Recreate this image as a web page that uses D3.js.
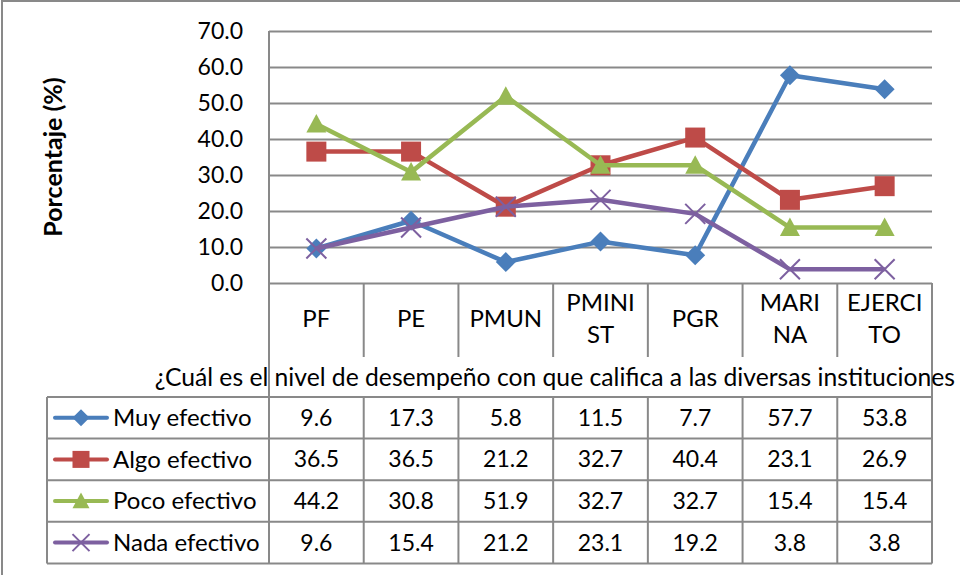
<!DOCTYPE html>
<html>
<head>
<meta charset="utf-8">
<script src="https://cdn.jsdelivr.net/npm/d3@7"></script>
<style>
    body { margin: 0; background: #fff; }
    svg text { font-family: Lato, "Open Sans", sans-serif; fill: #000; }
</style>
</head>
<body>
<div id="chart"></div>
<script>
// data
const categories = ["PF", "PE", "PMUN", "PMINIST", "PGR", "MARINA", "EJERCITO"];
const categoryLines = [["PF"], ["PE"], ["PMUN"], ["PMINI", "ST"], ["PGR"], ["MARI", "NA"], ["EJERCI", "TO"]];
const seriesNames = ["Muy efectivo", "Algo efectivo", "Poco efectivo", "Nada efectivo"];
const muyEfectivo = [9.6, 17.3, 5.8, 11.5, 7.7, 57.7, 53.8];
const algoEfectivo = [36.5, 36.5, 21.2, 32.7, 40.4, 23.1, 26.9];
const pocoEfectivo = [44.2, 30.8, 51.9, 32.7, 32.7, 15.4, 15.4];
const nadaEfectivo = [9.6, 15.4, 21.2, 23.1, 19.2, 3.8, 3.8];
const yTicks = [0, 10, 20, 30, 40, 50, 60, 70];
const axisTitle = "¿Cuál es el nivel de desempeño con que califica a las diversas instituciones";
const yTitle = "Porcentaje (%)";

const seriesValues = [muyEfectivo, algoEfectivo, pocoEfectivo, nadaEfectivo];
const colors = ["#4a7ebb", "#be4b48", "#98b954", "#7d60a0"];
const markers = ["diamond", "square", "triangle", "cross"];

const W = 960, H = 575;
const plot = {left: 269, right: 932, top: 31, bottom: 283};
const headerBottom = 357;
const tableTop = 397, rowH = 41.6, tableLeft = 47;
const gridColor = "#898989";
const wordSize = "24px";   // labels with letters
const numSize = "23px";    // numbers

const svg = d3.select("#chart").append("svg")
    .attr("width", W)
    .attr("height", H);

svg.append("rect")
    .attr("width", W).attr("height", H)
    .attr("fill", "#fff");

// outer chart border
svg.append("rect")
    .attr("x", 2).attr("y", 1)
    .attr("width", W + 20).attr("height", H + 20)
    .attr("fill", "none")
    .attr("stroke", gridColor)
    .attr("stroke-width", 2);

// scales
const x = d3.scaleBand()
    .domain(categories)
    .range([plot.left, plot.right]);

const y = d3.scaleLinear()
    .domain([0, 70])
    .range([plot.bottom, plot.top]);

// gridlines
svg.append("g")
    .attr("class", "grid")
    .attr("transform", `translate(${plot.left},0)`)
    .call(d3.axisLeft(y).tickValues(yTicks).tickSize(-(plot.right - plot.left)).tickFormat(""))
    .call(g => g.select(".domain").remove())
    .selectAll("line")
    .attr("stroke", gridColor)
    .attr("stroke-width", 2);

// y axis labels
svg.append("g")
    .attr("class", "y-axis")
    .attr("transform", `translate(${plot.left},0)`)
    .call(d3.axisLeft(y).tickValues(yTicks).tickSize(0).tickPadding(26).tickFormat(d3.format(".1f")))
    .call(g => g.select(".domain").remove())
    .selectAll("text")
    .style("font-size", numSize);

// y axis line, reaching down to the table
svg.append("line")
    .attr("x1", plot.left).attr("x2", plot.left)
    .attr("y1", plot.top).attr("y2", tableTop)
    .attr("stroke", gridColor).attr("stroke-width", 2);

// category header: vertical separators
const edges = categories.map(c => x(c)).concat([x(categories[categories.length - 1]) + x.bandwidth()]);
svg.append("g")
    .selectAll("line")
    .data(edges)
    .join("line")
    .attr("x1", d => d).attr("x2", d => d)
    .attr("y1", plot.bottom)
    .attr("y2", (d, i) => (i === 0 || i === edges.length - 1) ? tableTop : headerBottom)
    .attr("stroke", gridColor)
    .attr("stroke-width", 2);

// category labels
const catG = svg.append("g").selectAll("text")
    .data(categories)
    .join("text")
    .attr("text-anchor", "middle")
    .style("font-size", wordSize)
    .attr("x", d => x(d) + x.bandwidth() / 2);

catG.each(function (d, i) {
    const lines = categoryLines[i];
    const t = d3.select(this);
    const startY = lines.length === 1 ? 319 : 303;
    lines.forEach((l, j) => {
        t.append("tspan")
            .attr("x", x(d) + x.bandwidth() / 2)
            .attr("y", startY + j * 32)
            .attr("dy", "0.35em")
            .text(l);
    });
});

// x axis title
svg.append("text")
    .attr("x", 955)
    .attr("y", 377)
    .attr("dy", "0.35em")
    .attr("text-anchor", "end")
    .style("font-size", "24.7px")
    .text(axisTitle);

// y axis title
svg.append("text")
    .attr("transform", `translate(53,157) rotate(-90)`)
    .attr("dy", "0.35em")
    .attr("text-anchor", "middle")
    .attr("font-weight", "bold")
    .style("font-size", "25px")
    .text(yTitle);

// marker shapes
function drawMarker(g, type, color, size) {
    if (type === "diamond") {
        g.append("path")
            .attr("d", `M0,${-size}L${size},0L0,${size}L${-size},0Z`)
            .attr("fill", color);
    } else if (type === "square") {
        g.append("rect")
            .attr("x", -size).attr("y", -size)
            .attr("width", size * 2).attr("height", size * 2)
            .attr("fill", color);
    } else if (type === "triangle") {
        g.append("path")
            .attr("d", `M0,${-size}L${size},${size * 0.85}L${-size},${size * 0.85}Z`)
            .attr("fill", color);
    } else {
        g.append("path")
            .attr("d", `M${-size},${-size}L${size},${size}M${size},${-size}L${-size},${size}`)
            .attr("stroke", color)
            .attr("stroke-width", 2)
            .attr("fill", "none");
    }
}
const markerSize = [10, 10, 10, 10];

// lines
const line = d3.line()
    .x((d, i) => x(categories[i]) + x.bandwidth() / 2)
    .y(d => y(d));

seriesValues.forEach((vals, s) => {
    const g = svg.append("g").attr("class", "series");
    g.append("path")
        .datum(vals)
        .attr("d", line)
        .attr("fill", "none")
        .attr("stroke", colors[s])
        .attr("stroke-width", 4.5)
        .attr("stroke-linejoin", "round");
    g.selectAll(".marker")
        .data(vals)
        .join("g")
        .attr("class", "marker")
        .attr("transform", (d, i) => `translate(${x(categories[i]) + x.bandwidth() / 2},${y(d)})`)
        .each(function () { drawMarker(d3.select(this), markers[s], colors[s], markerSize[s]); });
});

// data table
const tableG = svg.append("g").attr("class", "table");
d3.range(seriesNames.length + 1).forEach(r => {
    tableG.append("line")
        .attr("x1", tableLeft).attr("x2", plot.right)
        .attr("y1", tableTop + r * rowH).attr("y2", tableTop + r * rowH)
        .attr("stroke", gridColor).attr("stroke-width", 2);
});
[tableLeft].concat(edges).forEach(ex => {
    tableG.append("line")
        .attr("x1", ex).attr("x2", ex)
        .attr("y1", tableTop).attr("y2", tableTop + rowH * seriesNames.length)
        .attr("stroke", gridColor).attr("stroke-width", 2);
});

seriesNames.forEach((name, s) => {
    const cy = tableTop + rowH * s + rowH / 2;
    tableG.append("line")
        .attr("x1", 55).attr("x2", 107)
        .attr("y1", cy).attr("y2", cy)
        .attr("stroke", colors[s])
        .attr("stroke-width", 4)
        .attr("stroke-linecap", "round");
    drawMarker(tableG.append("g").attr("transform", `translate(81,${cy})`), markers[s], colors[s], 8.5);
    tableG.append("text")
        .attr("x", 113).attr("y", cy)
        .attr("dy", "0.35em")
        .style("font-size", wordSize)
        .text(name);
    tableG.selectAll(null)
        .data(seriesValues[s])
        .join("text")
        .attr("x", (d, i) => x(categories[i]) + x.bandwidth() / 2)
        .attr("y", cy)
        .attr("dy", "0.35em")
        .attr("text-anchor", "middle")
        .style("font-size", numSize)
        .text(d => d.toFixed(1));
});
</script>
</body>
</html>
